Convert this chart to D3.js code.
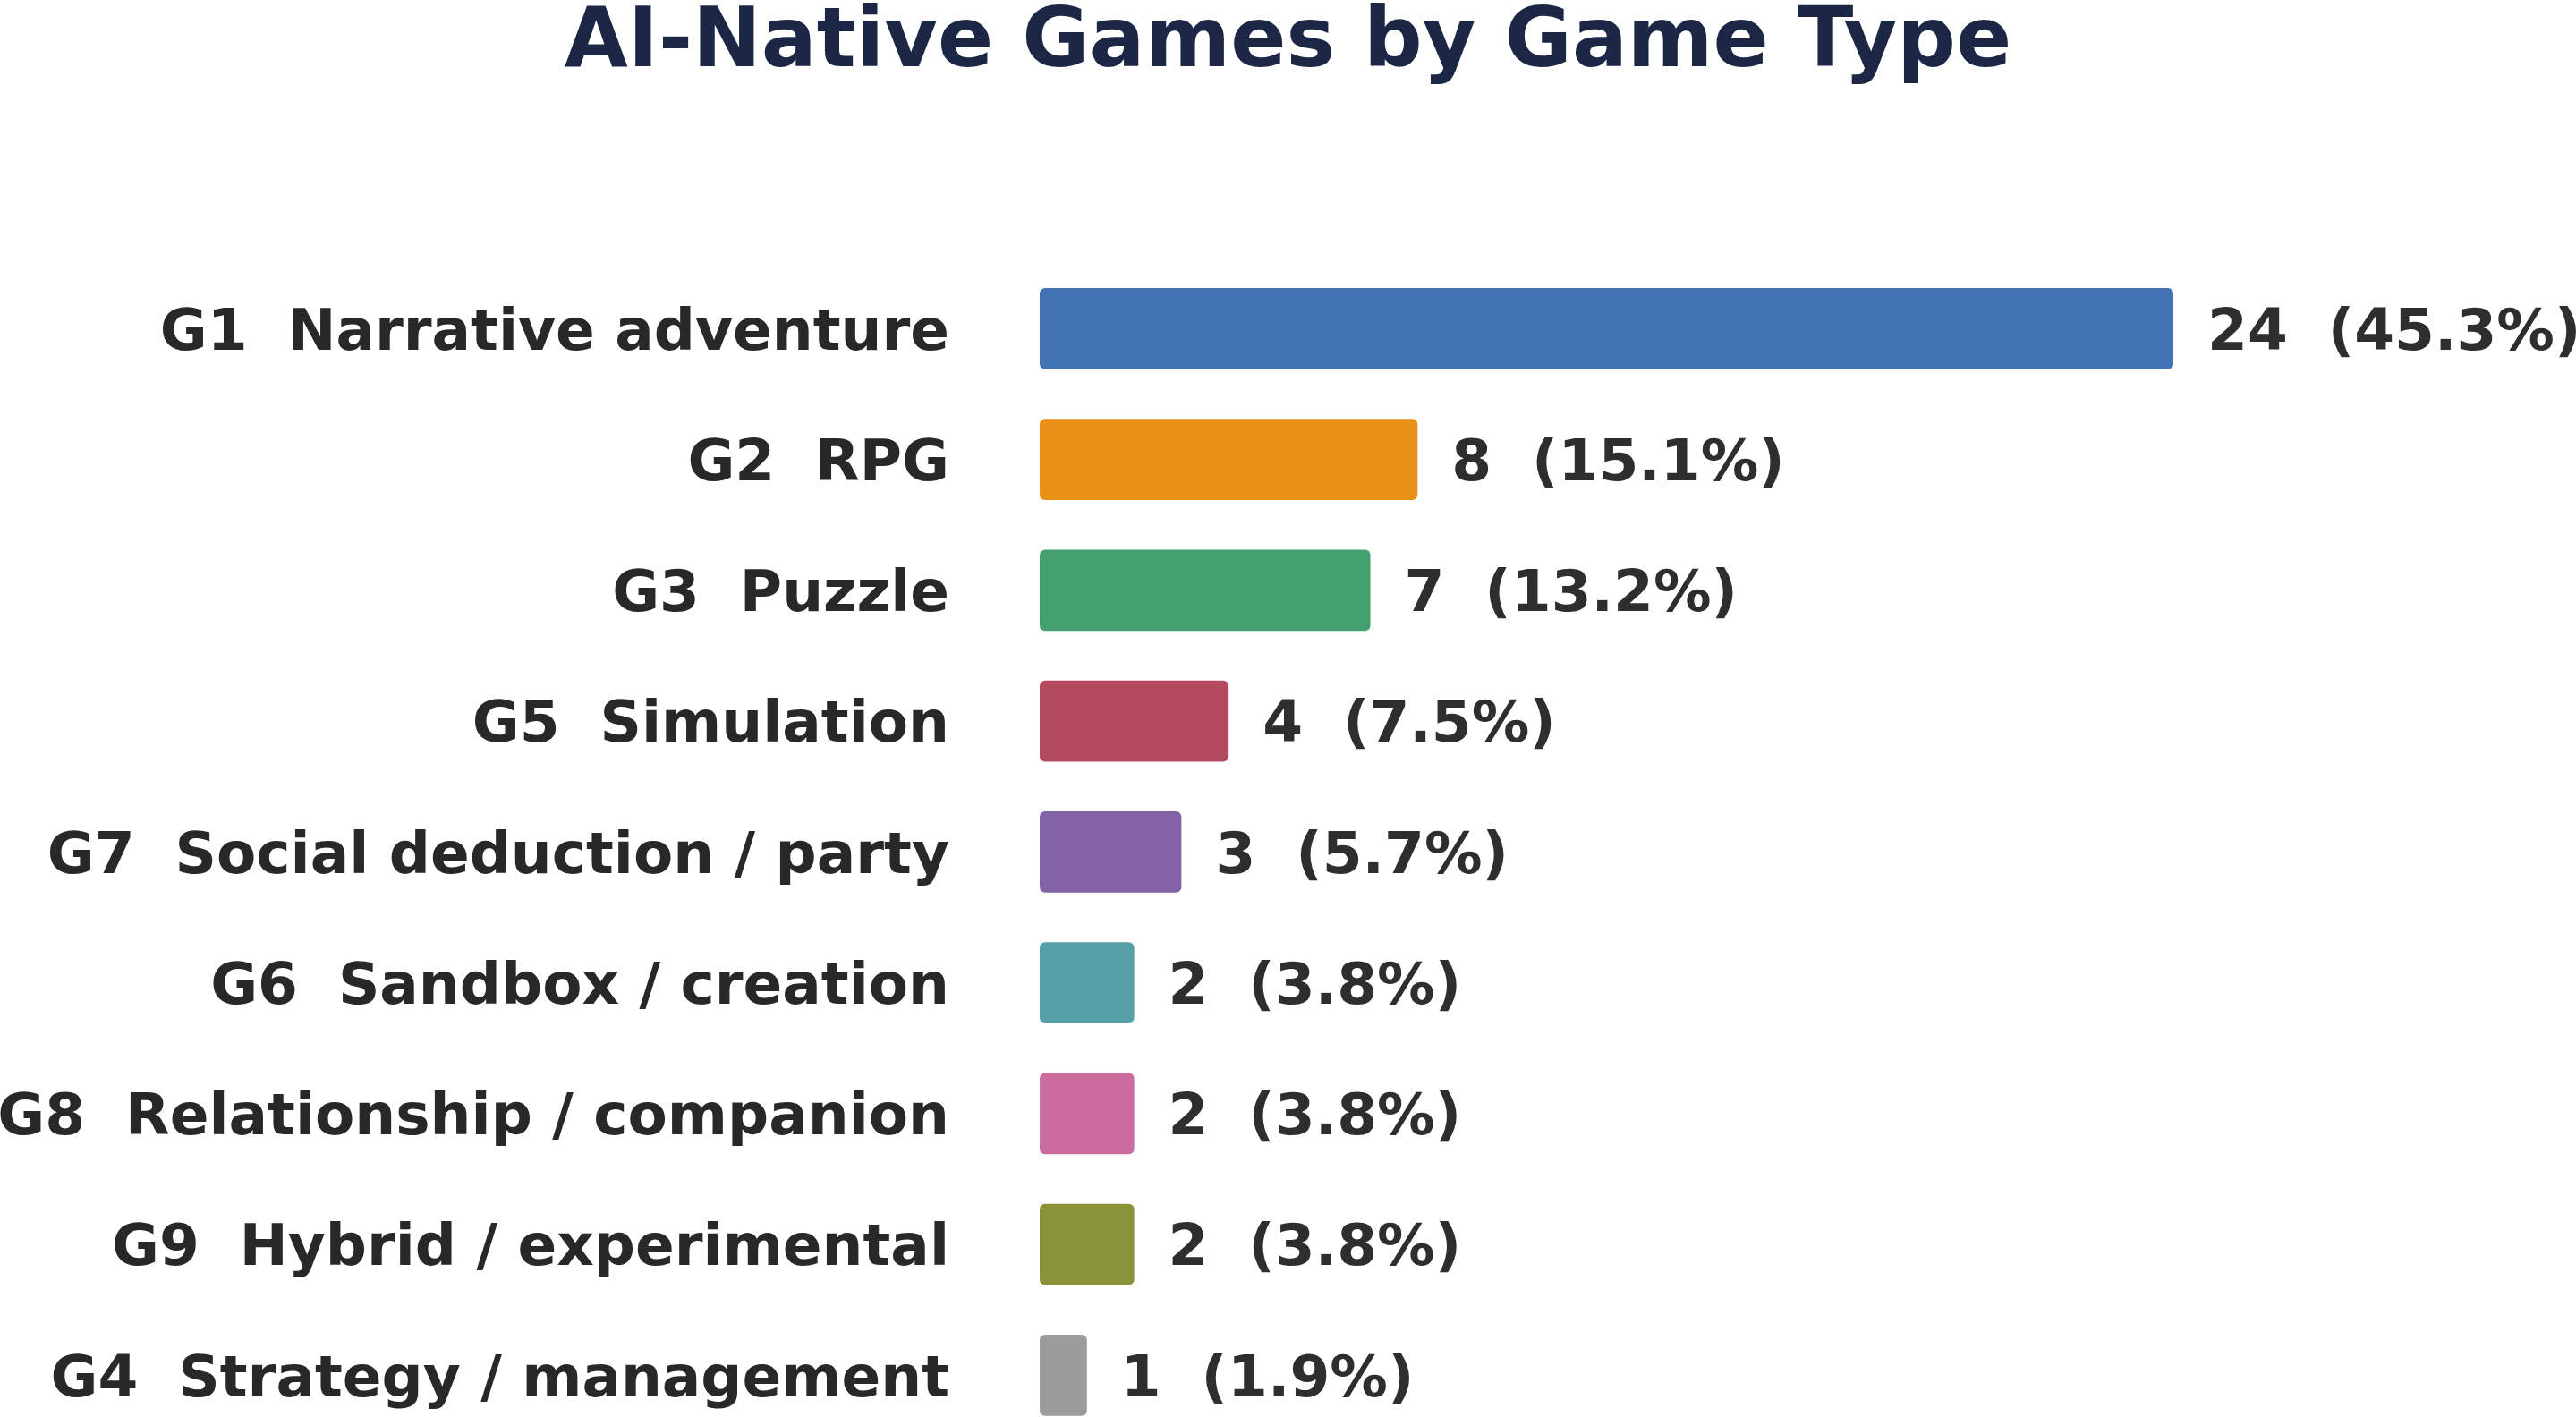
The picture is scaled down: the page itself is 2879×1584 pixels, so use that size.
<!DOCTYPE html>
<html>
<head>
<meta charset="utf-8">
<script src="https://cdn.jsdelivr.net/npm/d3@7"></script>
<style>
  html, body { margin: 0; padding: 0; background: #fff; }
  text { font-family: "DejaVu Sans", sans-serif; font-weight: bold; }
</style>
</head>
<body>
<div id="chart-area"></div>
<script>
const width = 2879;
const height = 1584;

// Data, top to bottom
const codes = ["G1", "G2", "G3", "G5", "G7", "G6", "G8", "G9", "G4"];
const names = ["Narrative adventure", "RPG", "Puzzle", "Simulation", "Social deduction / party",
  "Sandbox / creation", "Relationship / companion", "Hybrid / experimental", "Strategy / management"];
const counts = [24, 8, 7, 4, 3, 2, 2, 2, 1];
const percents = ["45.3%", "15.1%", "13.2%", "7.5%", "5.7%", "3.8%", "3.8%", "3.8%", "1.9%"];
const colors = ["#4172b4", "#e99018", "#44a06e", "#b44a5e", "#8263a8", "#56a0aa", "#cb6c9e", "#8a9338", "#9b9b9b"];

const rows = codes.map((c, i) => ({
  code: c, name: names[i], count: counts[i], pct: percents[i], color: colors[i]
}));

const svg = d3.select("#chart-area")
  .append("svg")
    .attr("width", width)
    .attr("height", height);

// Scales
const step = 146.25;
const pad = 0.38;
const xScale = d3.scaleLinear()
  .domain([0, 24])
  .range([1162, 2429]);

const yScale = d3.scaleBand()
  .domain(codes)
  .range([322 - pad / 2 * step, 322 - pad / 2 * step + 9 * step])
  .paddingInner(pad)
  .paddingOuter(pad / 2);

// Title
svg.append("text")
  .attr("x", width / 2)
  .attr("y", 74)
  .style("text-anchor", "middle")
  .style("font-size", "91.8px")
  .style("fill", "#1b2745")
  .text("AI-Native Games by Game Type");

// Bars
svg.selectAll("rect.bar")
  .data(rows)
  .enter().append("rect")
    .attr("class", "bar")
    .attr("x", xScale(0))
    .attr("y", d => yScale(d.code))
    .attr("width", d => xScale(d.count) - xScale(0))
    .attr("height", yScale.bandwidth())
    .attr("rx", 6)
    .style("fill", d => d.color);

// Category labels
svg.selectAll("text.cat")
  .data(rows)
  .enter().append("text")
    .attr("class", "cat")
    .attr("x", 1061)
    .attr("y", d => yScale(d.code) + yScale.bandwidth() / 2)
    .attr("dy", "0.36em")
    .style("text-anchor", "end")
    .style("font-size", "64.5px")
    .style("fill", "#282828")
    .style("white-space", "pre")
    .text(d => `${d.code}  ${d.name}`);

// Value labels
svg.selectAll("text.val")
  .data(rows)
  .enter().append("text")
    .attr("class", "val")
    .attr("x", d => xScale(d.count) + 38)
    .attr("y", d => yScale(d.code) + yScale.bandwidth() / 2)
    .attr("dy", "0.36em")
    .style("font-size", "64.5px")
    .style("fill", "#2e2e2e")
    .style("white-space", "pre")
    .text(d => `${d.count}  (${d.pct})`);
</script>
</body>
</html>
